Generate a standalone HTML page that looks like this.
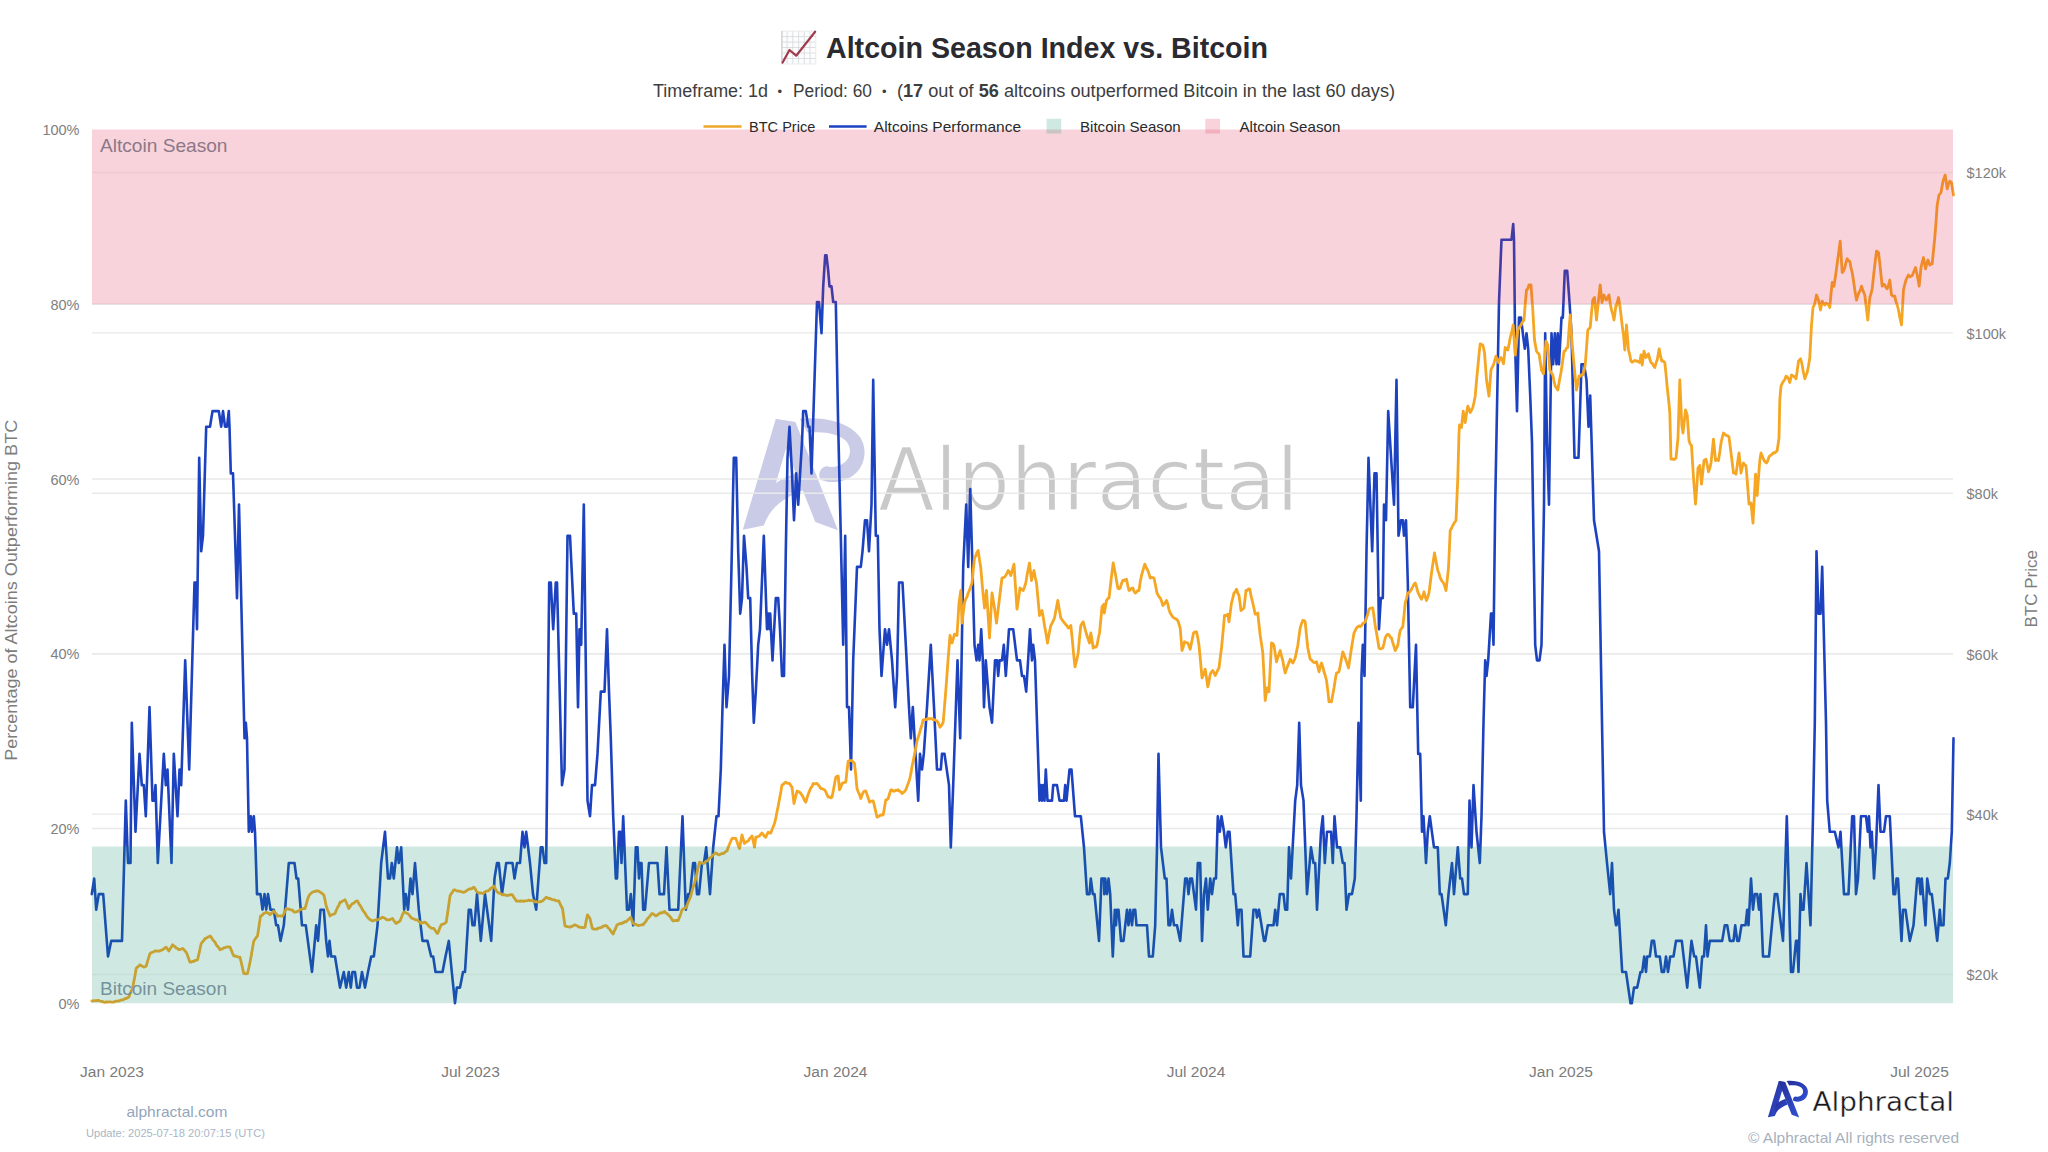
<!DOCTYPE html>
<html lang="en"><head><meta charset="utf-8"><title>Altcoin Season Index vs. Bitcoin</title>
<style>
html,body{margin:0;padding:0;background:#fff;}
body{width:2048px;height:1152px;overflow:hidden;font-family:"Liberation Sans",sans-serif;}
svg{display:block}
text{font-family:"Liberation Sans",sans-serif;}
.ax{font-size:14.5px;fill:#808080;}
.xl{font-size:15.5px;fill:#7b7b7b;}
.lg{font-size:15px;fill:#2a2a2a;}
.wm{font-family:"DejaVu Sans","Liberation Sans",sans-serif;}
</style></head><body>
<svg width="2048" height="1152" viewBox="0 0 2048 1152">
<defs>
<linearGradient id="lgA" x1="0" y1="0" x2="1" y2="1"><stop offset="0" stop-color="#262c98"/><stop offset="1" stop-color="#3153d4"/></linearGradient>
<g id="ap">
<path d="M190,1040 L450,168 L590,192 L355,1008 Z"/>
<path d="M450,168 L605,192 L940,1045 L762,980 L505,335 Z"/>
<path d="M355,1008 C405,870 505,790 665,730 L612,595 C515,630 430,675 372,735 Z"/>
<path d="M640,166 C900,140 1150,235 1150,425 C1150,620 950,700 815,650 C775,630 790,550 850,540 C930,562 1035,515 1035,420 C1035,305 880,262 700,275 Z"/>
</g>
</defs>
<rect x="0" y="0" width="2048" height="1152" fill="#ffffff"/>

<g opacity="1">
<g transform="translate(718.65,397.7) scale(0.1269)" fill="#cacbe7"><use href="#ap"/></g>
<text class="wm" x="878" y="509.5" font-size="88" font-weight="400" fill="#c9c9c9" stroke="#ffffff" stroke-width="1.7" textLength="421" lengthAdjust="spacingAndGlyphs">Alphractal</text>
</g>
<g stroke="#e9e9e9" stroke-width="1.4" fill="none">
<line x1="92" x2="1953" y1="828.5" y2="828.5"/>
<line x1="92" x2="1953" y1="653.7" y2="653.7"/>
<line x1="92" x2="1953" y1="479.0" y2="479.0"/>
<line x1="92" x2="1953" y1="304.2" y2="304.2"/>
<line x1="92" x2="1953" y1="814.1" y2="814.1"/>
<line x1="92" x2="1953" y1="653.7" y2="653.7"/>
<line x1="92" x2="1953" y1="493.3" y2="493.3"/>
<line x1="92" x2="1953" y1="332.9" y2="332.9"/>
<line x1="92" x2="1953" y1="974.5" y2="974.5" stroke="#f4f4f4"/>
<line x1="92" x2="1953" y1="172.5" y2="172.5" stroke="#f4f4f4"/>
</g>
<polyline fill="none" stroke="#1c42bf" stroke-width="2.6" stroke-linejoin="round" stroke-linecap="round" points="91.8,894.1 94.2,878.5 96.2,909.7 98.8,894.1 103.2,894.1 108.0,956.5 111.2,940.9 122.0,940.9 125.8,800.6 128.0,863.0 130.5,863.0 131.8,722.7 135.5,831.8 139.5,753.9 141.8,785.1 143.8,785.1 145.8,816.2 149.5,707.1 152.5,800.6 154.2,800.6 155.5,785.1 157.8,863.0 163.8,753.9 165.8,785.1 167.5,769.5 171.5,863.0 173.8,753.9 177.5,816.2 179.5,769.5 181.2,785.1 185.2,660.4 189.2,769.5 194.5,582.5 195.8,582.5 197.0,629.2 199.2,457.8 201.2,551.3 203.0,535.7 206.2,426.7 210.0,426.7 212.5,411.1 218.8,411.1 221.2,426.7 223.0,411.1 225.0,426.7 227.0,426.7 228.8,411.1 229.5,426.7 230.8,473.4 233.0,473.4 237.0,598.1 239.0,504.6 244.5,738.3 245.8,722.7 247.0,738.3 248.8,831.8 250.8,816.2 252.0,831.8 253.8,816.2 255.0,831.8 257.0,894.1 260.5,894.1 262.5,909.7 264.5,894.1 266.2,909.7 268.0,894.1 270.5,909.7 273.8,909.7 276.2,925.3 278.0,925.3 280.5,940.9 283.8,925.3 288.8,863.0 294.5,863.0 296.5,878.5 298.2,878.5 302.0,925.3 305.8,925.3 312.0,972.0 316.2,925.3 318.0,940.9 320.5,909.7 323.8,909.7 326.2,940.9 328.0,956.5 329.5,940.9 331.2,956.5 335.0,956.5 340.0,987.6 343.8,972.0 346.2,987.6 348.8,972.0 350.8,987.6 352.5,972.0 355.0,972.0 357.0,987.6 359.5,987.6 362.0,972.0 365.0,987.6 368.0,972.0 371.2,956.5 373.8,956.5 377.5,925.3 381.2,863.0 385.0,831.8 388.0,878.5 390.0,878.5 391.8,863.0 393.8,878.5 397.0,847.4 398.8,863.0 401.2,847.4 404.2,909.7 405.8,894.1 408.0,909.7 410.5,878.5 412.5,894.1 415.0,863.0 418.8,909.7 422.5,940.9 427.5,940.9 431.2,956.5 433.2,956.5 435.5,972.0 442.5,972.0 445.5,956.5 448.8,940.9 451.8,972.0 455.0,1003.2 456.8,987.6 460.0,987.6 463.0,972.0 465.0,972.0 468.8,909.7 470.8,909.7 472.5,925.3 474.5,925.3 477.0,894.1 480.8,940.9 485.0,894.1 491.2,940.9 494.5,878.5 497.0,863.0 498.8,863.0 502.0,894.1 506.2,863.0 512.5,863.0 514.5,878.5 517.0,863.0 520.0,863.0 522.5,831.8 524.5,847.4 526.2,831.8 530.0,863.0 533.0,894.1 536.2,909.7 540.8,847.4 542.5,847.4 544.5,863.0 546.2,863.0 549.2,582.5 550.8,582.5 553.2,629.2 555.8,582.5 557.0,582.5 562.0,785.1 564.5,769.5 567.5,535.7 570.0,535.7 573.8,613.6 576.2,613.6 578.0,707.1 579.5,629.2 581.2,644.8 583.8,504.6 587.5,800.6 590.0,816.2 592.0,785.1 595.0,785.1 597.5,753.9 600.8,691.6 604.5,691.6 607.0,629.2 609.0,691.6 610.8,738.3 613.2,816.2 615.8,878.5 617.0,878.5 619.0,831.8 620.2,831.8 621.5,863.0 623.2,816.2 627.0,909.7 629.0,909.7 630.8,894.1 633.2,925.3 635.8,847.4 637.5,847.4 639.0,878.5 640.0,863.0 641.5,863.0 643.2,909.7 645.0,909.7 649.0,863.0 657.5,863.0 659.5,894.1 664.0,894.1 666.5,847.4 669.5,909.7 678.2,909.7 682.5,816.2 685.8,909.7 688.2,894.1 690.0,894.1 693.2,863.0 695.0,863.0 697.0,894.1 699.0,894.1 702.0,863.0 704.0,863.0 706.2,847.4 710.0,894.1 713.2,847.4 716.5,816.2 718.5,816.2 720.8,769.5 722.5,707.1 724.5,644.8 726.5,707.1 729.0,676.0 731.5,566.9 733.8,457.8 736.2,457.8 738.2,551.3 740.2,613.6 742.0,598.1 744.0,535.7 746.5,566.9 748.2,598.1 750.2,598.1 752.2,676.0 753.8,722.7 755.8,691.6 758.2,644.8 760.0,629.2 763.8,535.7 767.0,629.2 768.2,613.6 769.5,629.2 770.2,613.6 772.5,660.4 775.8,598.1 778.2,598.1 780.0,629.2 782.0,676.0 784.0,676.0 785.8,551.3 787.5,457.8 789.5,426.7 792.0,473.4 794.0,520.2 796.2,473.4 798.2,504.6 802.0,442.2 803.2,411.1 805.8,411.1 808.2,426.7 809.5,426.7 811.5,473.4 814.5,379.9 817.0,302.0 819.0,302.0 821.5,333.2 823.2,286.4 825.2,255.3 826.5,255.3 828.2,270.8 829.5,286.4 831.5,286.4 833.2,302.0 835.8,302.0 838.2,426.7 840.8,535.7 843.2,644.8 845.2,535.7 847.0,707.1 849.0,707.1 851.0,769.5 853.2,660.4 857.0,566.9 860.8,566.9 862.5,551.3 865.0,520.2 867.0,520.2 869.0,551.3 871.5,504.6 873.2,379.9 874.5,457.8 875.8,535.7 877.8,535.7 879.5,629.2 881.5,676.0 885.0,629.2 887.0,644.8 889.0,629.2 892.0,660.4 895.2,707.1 897.0,676.0 899.0,582.5 902.5,582.5 905.8,644.8 909.0,707.1 910.8,738.3 912.8,707.1 918.2,800.6 920.0,753.9 922.0,769.5 923.8,753.9 927.0,707.1 930.8,644.8 934.0,707.1 937.0,769.5 940.8,769.5 942.0,753.9 944.5,753.9 949.0,785.1 950.8,847.4 953.2,785.1 957.5,660.4 960.2,738.3 963.2,566.9 966.2,504.6 968.2,566.9 970.2,489.0 972.0,551.3 974.5,644.8 976.5,660.4 978.2,644.8 979.5,660.4 981.2,629.2 982.8,660.4 984.0,707.1 985.8,660.4 989.5,707.1 992.0,722.7 995.0,660.4 997.0,660.4 998.2,676.0 999.5,660.4 1002.0,660.4 1003.8,644.8 1005.8,676.0 1009.0,629.2 1013.2,629.2 1017.0,660.4 1020.0,660.4 1022.0,676.0 1024.0,676.0 1026.2,691.6 1030.0,629.2 1032.0,660.4 1033.2,644.8 1035.0,660.4 1036.5,707.1 1039.5,800.6 1040.8,785.1 1042.0,800.6 1043.2,785.1 1044.5,800.6 1045.8,769.5 1047.5,800.6 1052.0,800.6 1053.2,785.1 1057.0,785.1 1059.5,800.6 1064.0,800.6 1065.2,785.1 1066.5,800.6 1069.5,769.5 1071.5,769.5 1075.0,816.2 1080.8,816.2 1084.0,847.4 1087.0,894.1 1089.5,894.1 1090.8,878.5 1092.8,894.1 1094.5,894.1 1099.0,940.9 1101.5,878.5 1104.0,878.5 1104.3,894.1 1105.2,878.5 1107.0,894.1 1108.5,878.5 1110.2,894.1 1112.8,956.5 1114.8,909.7 1116.0,925.3 1117.0,909.7 1118.5,909.7 1121.0,940.9 1123.5,940.9 1127.0,909.7 1128.5,925.3 1130.2,909.7 1132.0,925.3 1133.5,909.7 1135.2,909.7 1136.5,925.3 1147.0,925.3 1149.0,956.5 1152.8,956.5 1155.2,925.3 1157.0,847.4 1158.5,753.9 1161.0,847.4 1164.8,878.5 1166.5,878.5 1168.5,925.3 1170.2,925.3 1172.0,909.7 1174.0,925.3 1177.0,925.3 1180.2,940.9 1185.2,878.5 1187.0,878.5 1188.5,894.1 1190.2,878.5 1192.0,878.5 1196.0,909.7 1197.8,863.0 1200.2,863.0 1202.0,940.9 1204.0,894.1 1206.0,878.5 1207.8,909.7 1210.2,878.5 1212.0,894.1 1214.0,878.5 1216.0,878.5 1217.8,816.2 1219.8,831.8 1221.5,816.2 1224.0,831.8 1225.8,847.4 1227.8,831.8 1229.5,831.8 1233.5,894.1 1235.2,894.1 1237.8,925.3 1239.0,909.7 1241.5,909.7 1243.5,956.5 1250.2,956.5 1253.5,909.7 1256.0,909.7 1257.0,917.5 1259.0,909.7 1264.0,940.9 1265.2,940.9 1267.8,925.3 1273.5,925.3 1275.2,909.7 1277.0,925.3 1279.8,894.1 1283.5,894.1 1285.2,909.7 1287.2,909.7 1289.0,847.4 1291.0,878.5 1295.2,800.6 1297.2,785.1 1299.2,722.7 1301.0,785.1 1303.5,800.6 1307.0,894.1 1311.0,847.4 1313.5,863.0 1315.2,863.0 1317.0,909.7 1321.0,831.8 1322.8,816.2 1324.8,863.0 1327.0,831.8 1331.0,831.8 1332.8,863.0 1334.5,816.2 1337.0,847.4 1340.2,847.4 1342.8,863.0 1344.5,863.0 1346.5,909.7 1349.0,894.1 1352.0,894.1 1354.8,878.5 1356.5,816.2 1358.5,722.7 1360.8,800.6 1361.5,676.0 1362.8,644.8 1364.5,676.0 1366.5,551.3 1368.5,457.8 1372.2,551.3 1374.5,473.4 1376.5,473.4 1379.0,629.2 1380.8,598.1 1382.8,598.1 1384.0,504.6 1386.0,520.2 1388.2,411.1 1394.0,504.6 1396.5,379.9 1398.5,535.7 1401.0,520.2 1402.8,520.2 1404.0,535.7 1406.0,520.2 1407.8,582.5 1410.2,707.1 1412.8,707.1 1416.0,644.8 1418.2,753.9 1420.2,753.9 1422.0,831.8 1423.5,816.2 1426.0,863.0 1427.8,831.8 1429.8,816.2 1434.0,847.4 1437.8,847.4 1439.8,894.1 1441.5,894.1 1445.8,925.3 1448.5,894.1 1452.0,863.0 1454.0,894.1 1457.8,847.4 1460.2,878.5 1462.0,878.5 1464.0,894.1 1467.8,894.1 1469.5,800.6 1471.5,847.4 1473.5,785.1 1476.5,831.8 1479.8,863.0 1481.5,816.2 1483.5,722.7 1485.2,660.4 1486.5,676.0 1488.2,660.4 1491.0,613.6 1492.2,613.6 1493.5,644.8 1495.2,504.6 1499.0,302.0 1501.5,239.7 1511.5,239.7 1513.2,224.1 1514.0,239.7 1515.2,348.8 1517.0,411.1 1519.0,317.6 1521.0,317.6 1522.8,333.2 1524.8,348.8 1526.5,333.2 1528.2,348.8 1530.2,395.5 1532.0,442.2 1535.2,644.8 1537.0,660.4 1539.5,660.4 1541.5,644.8 1544.0,504.6 1545.2,333.2 1547.0,442.2 1549.0,504.6 1551.5,333.2 1553.2,364.3 1554.8,333.2 1556.5,364.3 1557.8,333.2 1559.0,364.3 1561.5,317.6 1562.8,317.6 1564.8,270.8 1567.2,270.8 1569.5,302.0 1571.5,333.2 1574.5,457.8 1578.5,457.8 1581.5,364.3 1584.0,364.3 1586.5,379.9 1588.5,426.7 1590.2,395.5 1594.0,520.2 1599.0,551.3 1602.0,722.7 1604.0,831.8 1607.0,863.0 1610.2,894.1 1612.0,863.0 1614.0,909.7 1616.0,925.3 1616.5,925.3 1618.5,909.7 1622.2,972.0 1626.0,972.0 1630.5,1003.2 1631.8,1003.2 1634.0,987.6 1637.2,987.6 1640.5,972.0 1642.2,972.0 1644.2,956.5 1646.0,972.0 1647.2,956.5 1649.8,956.5 1651.8,940.9 1654.0,940.9 1656.0,956.5 1659.8,956.5 1661.8,972.0 1664.0,972.0 1666.0,956.5 1668.0,972.0 1670.2,956.5 1673.5,956.5 1676.0,940.9 1681.8,940.9 1687.2,987.6 1691.5,940.9 1694.2,956.5 1696.0,956.5 1699.8,987.6 1702.2,956.5 1704.0,956.5 1706.0,925.3 1707.5,956.5 1709.8,940.9 1722.2,940.9 1724.8,925.3 1727.2,925.3 1729.8,940.9 1733.5,940.9 1735.2,925.3 1737.2,940.9 1739.0,940.9 1741.5,925.3 1745.5,925.3 1747.2,909.7 1748.5,925.3 1751.0,878.5 1753.0,909.7 1754.8,894.1 1757.2,894.1 1759.0,909.7 1760.5,894.1 1763.0,956.5 1769.0,956.5 1774.8,894.1 1777.2,894.1 1783.0,940.9 1786.8,816.2 1791.0,972.0 1793.0,972.0 1796.0,940.9 1797.2,940.9 1798.5,972.0 1800.5,894.1 1801.8,909.7 1803.5,909.7 1806.5,863.0 1810.5,925.3 1813.0,816.2 1814.8,722.7 1816.5,551.3 1818.5,613.6 1820.5,613.6 1822.2,566.9 1826.0,722.7 1827.2,800.6 1829.8,831.8 1834.8,831.8 1838.5,847.4 1840.5,831.8 1844.0,894.1 1848.5,894.1 1852.2,816.2 1854.0,816.2 1856.0,894.1 1858.0,878.5 1861.0,816.2 1866.0,816.2 1867.8,831.8 1869.0,816.2 1870.5,847.4 1871.8,831.8 1874.0,878.5 1876.0,847.4 1878.5,785.1 1880.5,831.8 1884.0,831.8 1886.0,816.2 1889.8,816.2 1893.5,894.1 1895.2,894.1 1896.5,878.5 1898.0,878.5 1901.5,940.9 1903.0,909.7 1905.5,909.7 1909.8,940.9 1913.5,925.3 1917.2,878.5 1919.2,878.5 1920.5,894.1 1921.8,878.5 1925.5,925.3 1927.2,878.5 1929.8,894.1 1931.8,894.1 1937.2,940.9 1939.8,909.7 1941.0,925.3 1943.5,925.3 1945.5,878.5 1947.8,878.5 1949.8,863.0 1951.8,831.8 1953.5,738.3"/>
<polyline fill="none" stroke="#f5a623" stroke-width="2.8" stroke-linejoin="round" stroke-linecap="round" points="91.8,1001.0 93.2,1000.8 94.5,1000.5 96.0,1000.8 97.3,1000.3 98.8,1000.5 100.0,1001.0 101.2,1001.3 102.5,1001.5 103.8,1002.2 105.0,1002.3 106.2,1001.9 107.5,1002.2 108.8,1001.9 110.0,1001.9 111.2,1002.2 112.5,1002.2 113.8,1002.2 115.0,1001.3 116.2,1001.1 117.5,1001.1 118.8,1001.0 120.0,1000.4 121.2,1000.0 122.5,999.8 123.8,999.6 125.0,998.4 126.2,998.5 127.5,997.6 128.8,997.2 130.0,994.0 131.2,991.1 132.5,988.5 133.8,981.7 135.0,975.4 136.2,968.5 137.5,967.0 138.8,966.1 140.0,964.8 141.2,965.7 142.5,966.3 143.8,967.2 145.0,966.7 146.2,966.0 147.5,961.4 148.8,957.3 150.0,953.5 151.2,952.6 152.5,952.4 153.8,951.6 155.0,951.0 156.2,950.8 157.5,951.1 158.8,951.0 160.0,951.0 161.2,950.1 162.5,949.8 163.8,948.9 165.0,947.8 166.2,947.2 167.5,949.2 168.8,951.0 170.0,948.9 171.2,947.2 172.5,944.8 173.8,946.0 175.0,946.6 176.2,948.2 177.5,948.4 178.8,949.8 180.0,949.3 181.2,949.2 182.5,948.5 183.8,949.4 185.0,951.0 186.2,952.2 187.5,955.2 188.8,959.1 190.0,962.2 191.2,962.1 192.5,961.5 193.8,961.3 195.0,960.4 196.2,960.3 197.5,959.8 198.8,954.4 200.0,949.0 201.2,943.5 202.5,941.8 203.8,940.5 205.0,938.5 206.2,938.3 207.5,937.2 208.8,936.8 210.0,936.0 211.2,937.1 212.5,939.3 213.8,940.8 215.0,942.2 216.2,944.6 217.5,946.3 218.8,947.7 220.0,949.8 221.2,949.1 222.5,948.9 223.8,947.8 225.0,947.7 226.2,947.2 227.5,946.9 228.8,946.9 230.0,947.2 231.2,949.8 232.5,953.3 233.8,956.0 235.0,955.9 236.2,956.3 237.5,956.7 238.8,957.3 240.0,957.2 241.2,962.3 242.5,968.0 243.8,973.5 245.0,973.5 246.2,973.8 247.5,973.5 248.8,968.0 250.0,962.2 251.2,956.0 252.5,948.3 253.8,941.0 255.0,939.3 256.2,937.5 257.5,936.0 259.0,926.4 260.5,916.0 261.9,915.5 263.4,913.8 264.8,912.9 266.2,912.2 267.5,912.8 268.8,913.6 270.0,914.8 271.2,913.5 272.5,912.3 273.8,911.0 275.0,912.4 276.2,913.8 277.5,916.0 278.8,915.9 280.0,915.9 281.2,916.1 282.5,916.0 283.8,914.0 285.0,911.2 286.2,908.5 287.5,908.8 288.8,909.2 290.0,909.6 291.2,909.8 292.5,910.1 293.8,911.8 295.0,912.2 296.2,911.9 297.5,911.4 298.8,910.7 300.0,909.8 301.2,909.3 302.5,909.0 303.8,908.4 305.0,908.5 306.2,904.5 307.5,899.7 308.8,896.0 310.0,894.3 311.2,893.2 312.5,892.2 313.8,891.6 315.0,891.5 316.2,890.8 317.5,891.0 318.8,891.2 320.0,892.1 321.2,892.8 322.5,893.9 323.8,894.8 325.0,899.9 326.2,906.0 327.5,909.7 328.8,912.8 330.0,916.0 331.2,915.0 332.5,914.5 333.8,914.0 335.0,913.5 336.2,910.5 337.5,907.5 338.8,905.4 340.0,902.2 341.2,902.1 342.5,901.0 343.8,900.4 345.0,899.8 346.2,902.2 347.5,905.2 348.8,908.5 350.0,906.7 351.2,904.9 352.5,903.5 353.8,903.2 355.0,901.9 356.2,901.1 357.5,901.0 358.8,903.7 360.0,905.4 361.2,907.2 362.5,909.8 363.8,911.7 365.0,913.0 366.2,915.4 367.5,917.2 368.8,918.7 370.0,919.5 371.2,920.3 372.5,921.0 373.8,920.4 375.0,920.2 376.2,919.7 377.5,919.8 378.8,919.4 380.0,918.5 381.2,918.2 382.5,917.2 383.8,917.7 385.0,918.2 386.2,919.4 387.5,919.8 388.8,919.9 390.0,919.5 391.2,919.1 392.5,918.5 393.8,920.5 395.0,922.1 396.2,923.5 397.5,922.4 398.8,921.9 400.0,921.0 401.2,917.9 402.5,914.7 403.8,912.2 405.0,912.2 406.2,912.9 407.5,913.5 408.8,914.5 410.0,916.2 411.2,917.7 412.5,918.5 413.8,918.8 415.0,919.6 416.2,919.9 417.5,919.8 418.8,921.5 420.0,922.1 421.2,923.5 422.5,922.8 423.8,922.4 425.0,922.2 426.2,923.2 427.5,924.5 428.8,926.1 430.0,927.2 431.2,928.1 432.5,928.4 433.8,928.5 435.0,930.1 436.2,932.0 437.5,933.5 438.8,930.9 440.0,927.3 441.2,924.8 442.5,924.3 443.8,923.9 445.0,923.2 446.2,922.2 447.5,913.8 448.8,904.7 450.0,896.0 451.2,893.6 452.5,892.1 453.8,889.8 455.0,889.9 456.2,890.7 457.5,891.2 458.8,891.0 460.0,891.3 461.2,891.7 462.5,892.2 463.8,892.3 465.0,891.7 466.2,891.0 467.5,890.0 468.8,889.3 470.0,888.7 471.2,888.9 472.5,888.2 473.8,887.2 475.0,888.5 476.2,890.9 477.5,892.2 478.8,893.1 480.0,893.0 481.2,893.0 482.5,893.5 483.8,892.9 485.0,891.9 486.2,891.1 487.5,891.0 488.8,890.5 490.0,889.2 491.2,888.0 492.5,887.5 493.8,886.0 495.0,888.0 496.2,890.6 497.5,892.2 498.8,893.2 500.0,893.2 501.2,893.9 502.5,894.8 503.8,894.7 505.0,894.8 506.2,895.4 507.5,895.5 508.8,895.1 510.0,895.0 511.2,894.5 512.5,894.8 513.8,897.3 515.0,898.8 516.2,901.0 517.5,901.0 518.8,901.1 520.0,901.4 521.2,900.9 522.5,901.0 523.8,901.4 525.0,900.8 526.2,900.8 527.5,900.7 528.8,900.1 530.0,900.5 531.2,900.7 532.5,900.7 533.8,900.9 535.0,902.0 536.2,901.6 537.5,902.2 538.8,901.9 540.0,901.9 541.2,901.4 542.5,901.0 543.8,899.6 545.0,898.5 546.2,897.2 547.5,897.8 548.8,898.6 550.0,898.3 551.2,899.3 552.5,899.8 553.8,899.7 555.0,900.0 556.2,900.8 557.5,900.8 558.8,901.0 560.0,903.6 561.2,906.3 562.5,908.5 563.8,917.7 565.0,926.0 566.2,926.3 567.5,926.7 568.8,926.9 570.0,927.2 571.2,926.6 572.5,926.2 573.8,925.3 575.0,924.8 576.2,925.4 577.5,926.0 578.8,927.1 580.0,927.2 581.2,927.4 582.5,927.6 583.8,927.7 585.0,927.2 586.2,920.8 587.5,914.8 588.8,916.7 590.0,918.5 592.0,927.2 592.3,928.5 593.9,929.1 595.4,929.2 597.0,929.0 598.2,928.2 599.5,927.8 600.8,927.6 602.0,927.2 603.2,926.2 604.5,925.8 605.8,925.5 607.0,926.2 608.2,928.0 609.5,929.0 610.8,930.9 612.0,932.7 613.2,934.0 614.5,930.6 615.8,928.0 617.0,924.8 618.2,924.5 619.5,923.5 620.8,923.8 622.0,923.0 623.2,923.0 624.5,921.7 625.8,922.0 627.0,921.0 628.2,919.6 629.5,918.5 630.8,917.2 632.0,920.9 633.2,923.5 634.5,924.3 635.8,924.2 637.0,924.9 638.2,925.5 639.5,925.3 640.8,925.0 642.0,924.6 643.2,924.8 644.5,922.9 645.8,921.6 647.0,919.2 648.2,918.0 649.5,916.6 650.8,914.9 652.0,913.5 653.2,913.8 654.5,915.0 655.8,916.0 657.0,915.3 658.2,914.3 659.5,913.5 660.8,912.6 662.0,913.0 663.2,912.3 664.5,911.5 665.8,913.1 667.0,913.3 668.2,914.8 669.5,916.1 670.8,917.4 672.0,919.7 673.2,921.0 674.5,920.6 675.8,920.4 677.0,920.5 678.2,920.5 679.5,917.3 680.8,913.7 682.0,909.8 683.2,908.9 684.5,908.2 685.8,908.0 687.0,905.4 688.2,902.1 689.5,899.2 690.8,896.0 692.0,891.2 693.2,886.8 694.5,883.1 695.8,878.5 697.0,873.0 698.2,867.2 699.5,862.2 700.8,863.2 702.0,863.2 703.2,863.5 704.5,863.0 705.8,861.4 707.0,861.0 708.2,860.2 709.5,858.0 710.8,857.7 712.0,856.0 713.2,854.9 714.5,853.8 715.8,853.0 717.0,853.6 718.2,854.7 719.5,854.8 720.8,854.1 722.0,853.5 723.2,853.5 724.5,852.7 725.8,851.5 727.0,851.0 728.2,847.4 729.5,844.3 730.8,841.1 732.0,838.5 733.2,838.1 734.5,838.3 735.8,838.5 737.0,841.6 738.2,845.5 739.5,848.5 740.8,841.4 742.0,834.8 743.2,839.1 744.5,843.5 745.8,842.3 747.0,841.6 748.2,841.0 749.5,838.7 750.8,837.4 752.0,836.0 753.2,841.0 754.5,847.2 755.8,837.2 757.0,837.1 758.2,836.5 759.5,836.0 760.8,834.1 762.0,833.0 763.2,834.4 764.5,836.4 765.8,837.2 767.0,834.3 768.2,832.2 769.5,833.0 770.8,833.0 772.0,829.7 773.2,826.7 774.5,823.5 775.8,818.1 777.0,811.7 778.2,806.0 779.5,798.9 780.8,792.1 782.0,784.8 783.2,784.6 784.5,782.9 785.8,782.2 787.0,783.1 788.2,783.4 789.5,783.5 790.8,785.6 792.0,787.2 794.0,803.5 795.5,797.1 797.0,791.0 798.2,791.6 799.5,792.1 800.8,793.5 802.0,795.2 803.2,797.3 804.5,800.4 805.8,802.2 807.0,798.2 808.2,794.3 809.5,791.0 810.8,787.9 812.0,786.5 813.2,783.5 814.5,784.0 815.8,783.7 817.0,783.5 818.2,784.9 819.5,786.5 820.8,788.5 822.0,788.6 823.2,789.3 824.5,789.8 825.8,791.8 827.0,794.7 828.2,797.2 829.5,796.9 830.8,797.9 832.0,797.2 833.2,791.2 834.5,784.0 835.8,777.2 837.0,776.3 838.2,776.0 839.5,789.8 840.8,787.3 842.0,783.5 843.2,782.8 844.5,782.5 845.8,782.2 847.0,770.9 848.2,761.0 849.5,760.7 850.8,760.6 852.0,760.5 853.2,762.0 854.5,763.5 855.8,775.6 857.0,788.5 858.2,791.8 859.5,794.5 860.8,798.5 862.0,795.1 863.2,792.2 864.5,791.1 865.8,791.0 867.0,794.6 868.2,797.9 869.5,802.2 870.8,801.2 872.0,801.2 873.2,801.0 874.5,806.1 875.8,811.9 877.0,817.2 878.2,816.5 879.5,815.9 880.8,814.8 882.0,815.0 883.2,814.8 884.5,807.5 885.8,799.8 887.0,799.6 888.2,798.5 889.5,794.0 890.8,789.8 892.0,789.9 893.2,791.2 894.5,791.0 895.8,790.1 897.0,790.5 898.2,789.8 899.5,791.2 900.8,791.6 902.0,793.5 903.2,792.7 904.5,791.5 905.8,789.8 907.0,786.6 908.2,783.4 909.5,779.8 910.8,773.9 912.0,766.7 913.2,761.0 914.5,754.4 915.8,747.7 917.0,741.0 918.2,737.3 919.5,733.1 920.8,728.5 922.0,724.6 923.2,719.8 924.5,719.6 925.8,719.7 927.0,719.1 928.2,718.5 929.5,719.1 930.8,718.7 932.0,718.7 933.2,719.8 934.5,719.6 935.8,720.4 937.0,721.0 938.5,723.5 940.0,727.2 941.6,725.3 943.2,722.2 944.5,706.5 945.8,690.5 947.0,674.5 948.2,658.0 950.0,635.5 952.0,643.0 953.2,638.8 954.5,634.2 955.8,635.2 957.0,635.5 959.0,603.0 960.8,590.5 962.0,623.0 963.2,613.0 964.5,603.0 965.8,598.8 967.0,596.9 968.2,593.0 969.5,590.1 970.8,586.3 972.0,583.0 973.2,570.6 974.5,558.0 975.8,555.8 977.0,552.2 978.2,550.5 979.5,559.7 980.8,568.0 982.5,588.0 984.5,608.0 986.5,590.5 988.0,613.8 989.5,638.0 990.8,614.7 992.0,593.0 993.2,600.1 994.5,608.0 996.5,623.0 998.0,610.9 999.5,598.0 1000.8,587.5 1002.0,578.0 1003.2,577.6 1004.5,577.2 1005.8,575.5 1007.0,573.0 1008.2,570.5 1009.5,572.8 1010.8,575.5 1012.4,569.8 1014.0,564.2 1015.5,587.1 1017.0,609.2 1018.5,599.1 1020.0,588.0 1021.6,589.5 1023.2,590.5 1024.5,587.0 1025.8,583.0 1027.0,575.5 1028.2,569.0 1029.5,563.0 1031.5,580.5 1032.8,575.0 1034.0,570.5 1035.2,577.2 1036.5,583.0 1038.0,598.9 1039.5,615.5 1040.8,613.1 1042.0,610.5 1043.2,617.1 1044.5,625.5 1046.0,633.5 1047.5,643.0 1049.1,633.8 1050.8,625.5 1052.0,623.3 1053.2,620.8 1054.5,618.0 1056.1,609.6 1057.8,600.5 1059.2,608.9 1060.8,618.0 1062.0,619.7 1063.2,621.3 1064.5,623.0 1065.8,624.6 1067.0,625.7 1068.2,628.0 1069.5,627.4 1070.8,625.5 1072.2,638.7 1073.6,653.8 1075.0,666.8 1076.6,660.6 1078.2,653.0 1079.5,638.4 1080.8,625.5 1082.0,623.6 1083.2,621.8 1084.5,626.9 1085.8,631.7 1087.0,635.5 1088.2,639.2 1089.5,643.0 1090.8,633.0 1092.0,640.1 1093.2,648.0 1094.5,646.7 1095.8,647.1 1097.0,645.5 1098.2,638.8 1099.5,633.0 1100.8,620.0 1102.0,606.8 1104.0,604.2 1104.3,613.0 1106.5,600.5 1107.8,598.6 1109.0,598.0 1111.0,580.5 1113.2,563.0 1115.2,573.0 1116.5,580.5 1117.8,588.0 1119.0,588.8 1120.2,588.0 1121.5,583.6 1122.8,580.5 1124.0,580.7 1125.2,579.7 1126.5,579.2 1127.8,585.6 1129.0,590.5 1130.2,590.0 1131.5,588.3 1132.8,588.0 1134.0,591.2 1135.2,593.0 1136.5,592.1 1137.8,590.5 1139.0,590.5 1140.2,582.1 1141.5,575.5 1143.1,569.9 1144.8,564.2 1146.2,567.3 1147.8,570.5 1149.0,573.9 1150.2,578.0 1151.5,577.3 1152.8,577.7 1154.0,578.0 1155.5,585.2 1157.0,593.0 1158.6,596.1 1160.2,598.0 1161.5,600.8 1162.8,605.5 1164.0,604.3 1165.2,602.8 1166.5,600.5 1167.8,604.0 1169.0,609.6 1170.2,613.0 1171.5,615.0 1172.8,617.0 1174.0,618.0 1175.2,618.5 1176.5,619.4 1177.8,620.5 1179.0,624.1 1180.2,628.0 1182.0,650.5 1183.2,647.0 1184.5,641.8 1186.1,642.5 1187.8,643.0 1189.0,645.9 1190.2,649.2 1191.9,641.0 1193.5,633.0 1195.0,632.0 1196.5,631.8 1197.8,637.8 1199.0,645.5 1200.5,661.1 1202.0,678.0 1203.6,674.2 1205.2,669.2 1206.5,677.7 1207.8,686.8 1209.0,681.2 1210.2,674.2 1211.5,672.0 1212.8,670.5 1214.0,672.6 1215.2,675.5 1216.5,673.0 1217.8,670.0 1219.0,668.0 1220.2,657.8 1221.5,648.0 1223.0,632.5 1224.5,615.5 1226.1,615.6 1227.8,614.2 1229.0,621.8 1230.2,612.9 1231.5,603.0 1232.8,598.2 1234.0,593.0 1235.2,591.9 1236.5,589.2 1237.8,593.2 1239.0,595.5 1241.0,610.5 1242.5,609.3 1244.0,608.0 1246.0,590.5 1247.2,590.5 1248.5,588.8 1249.8,589.2 1251.2,596.5 1252.8,603.0 1254.0,608.5 1255.2,614.2 1256.5,614.1 1257.8,613.0 1259.0,624.5 1260.2,635.5 1261.5,643.9 1262.8,653.0 1264.0,676.0 1265.2,700.5 1267.0,688.0 1269.0,691.8 1270.2,668.1 1271.5,643.0 1272.8,643.6 1274.0,645.5 1275.2,653.6 1276.5,661.8 1277.8,657.7 1279.0,653.9 1280.2,650.5 1281.5,655.9 1282.8,660.5 1284.0,667.5 1285.2,673.0 1286.5,668.9 1287.8,665.5 1289.0,662.6 1290.2,659.2 1291.5,660.8 1292.8,663.0 1294.0,660.6 1295.2,658.0 1296.5,651.6 1297.8,645.5 1299.0,636.2 1300.2,628.0 1301.5,623.7 1302.8,620.5 1304.0,620.6 1305.2,621.8 1306.5,635.6 1307.8,648.0 1309.0,653.6 1310.2,659.2 1311.5,660.0 1312.8,661.8 1314.0,662.4 1315.2,662.6 1316.5,661.8 1317.8,666.7 1319.0,671.8 1320.2,666.8 1321.5,663.0 1322.8,666.9 1324.0,671.8 1325.2,675.5 1326.5,680.5 1327.8,690.9 1329.0,701.8 1330.2,701.1 1331.5,701.8 1332.8,694.5 1334.0,688.0 1335.2,680.1 1336.5,673.0 1337.8,672.5 1339.0,671.8 1340.2,665.7 1341.5,658.8 1342.8,651.8 1344.0,654.7 1345.2,658.0 1346.9,662.9 1348.5,668.0 1350.0,658.0 1351.5,648.0 1352.8,640.3 1354.0,633.0 1355.2,630.6 1356.5,628.1 1357.8,626.8 1359.0,625.9 1360.2,626.7 1361.5,625.5 1362.8,623.6 1364.0,623.0 1365.2,621.8 1366.5,617.8 1367.8,614.1 1369.0,609.2 1370.2,608.3 1371.5,608.0 1372.8,608.0 1374.0,616.3 1375.2,625.5 1376.5,632.8 1377.8,640.4 1379.0,648.0 1380.2,648.8 1381.5,648.6 1382.8,648.0 1384.0,643.6 1385.2,638.0 1386.5,635.3 1387.8,634.2 1389.0,634.7 1390.2,637.1 1391.5,638.0 1392.8,642.8 1394.0,646.3 1395.2,650.5 1396.5,648.1 1397.8,645.5 1399.0,637.1 1400.2,630.5 1401.5,628.4 1402.8,626.8 1404.0,615.6 1405.2,603.0 1406.5,598.6 1407.8,593.0 1409.0,592.4 1410.2,591.4 1411.5,589.2 1412.8,586.7 1414.0,584.4 1415.2,583.0 1416.5,586.7 1417.8,591.8 1419.0,594.3 1420.2,597.1 1421.5,599.2 1422.8,596.3 1424.0,591.8 1425.2,596.5 1426.5,600.5 1427.8,597.0 1429.0,593.0 1430.2,583.5 1431.5,573.0 1433.0,562.9 1434.5,553.0 1436.1,561.8 1437.8,570.5 1439.0,573.4 1440.2,578.0 1441.9,581.0 1443.5,583.0 1444.8,586.3 1446.0,590.5 1447.2,580.0 1448.5,568.0 1450.2,530.5 1451.5,528.3 1452.8,525.5 1454.4,522.6 1456.0,520.5 1457.8,478.0 1459.0,433.0 1459.5,425.0 1461.5,427.5 1463.2,411.2 1465.2,422.5 1466.5,413.5 1467.8,406.2 1469.0,408.8 1470.2,412.5 1471.5,410.3 1472.8,407.5 1474.0,402.3 1475.2,396.2 1476.5,381.0 1477.8,367.5 1479.0,354.6 1480.2,343.8 1481.5,344.4 1482.8,345.0 1484.5,352.5 1486.5,380.0 1487.8,388.3 1489.0,396.2 1491.0,370.0 1492.2,367.2 1493.5,365.0 1494.8,360.0 1496.0,356.2 1497.2,359.6 1498.5,362.5 1499.8,358.8 1501.0,357.5 1502.2,360.1 1503.5,363.8 1505.2,347.5 1506.5,348.7 1507.8,350.0 1509.0,344.9 1510.2,337.5 1511.8,331.6 1513.2,325.0 1515.2,355.0 1516.5,343.4 1517.8,330.0 1519.4,327.4 1521.0,325.0 1522.5,321.8 1524.0,320.0 1525.2,304.4 1526.5,290.0 1527.8,288.7 1529.0,285.0 1531.0,285.0 1532.8,310.0 1534.5,340.0 1536.5,351.2 1537.8,353.0 1539.0,353.8 1540.2,361.4 1541.5,370.0 1543.5,373.8 1544.8,356.3 1546.0,341.2 1547.8,345.0 1549.8,370.0 1551.2,372.5 1552.8,375.0 1554.0,381.0 1555.2,386.2 1556.5,387.9 1557.8,390.0 1559.4,380.7 1561.0,372.5 1562.5,362.3 1564.0,351.2 1565.2,351.0 1566.5,348.1 1567.8,347.5 1569.0,330.1 1570.2,315.0 1572.0,342.5 1573.2,355.9 1574.5,370.0 1576.5,390.0 1577.8,382.9 1579.0,376.2 1580.2,376.3 1581.5,374.7 1582.8,375.0 1584.0,370.7 1585.2,365.0 1586.5,348.1 1587.8,330.0 1589.0,328.8 1590.2,327.5 1591.5,313.0 1592.8,300.0 1594.5,297.5 1596.5,320.0 1598.5,300.0 1600.2,285.0 1602.0,302.5 1604.0,295.0 1605.2,298.7 1606.5,300.0 1607.8,297.0 1609.0,295.0 1610.2,303.3 1611.5,310.0 1612.8,314.3 1614.0,320.0 1616.0,305.0 1616.3,306.2 1618.5,297.5 1619.8,305.5 1621.0,315.0 1622.2,325.7 1623.5,335.0 1624.8,350.0 1626.5,325.0 1628.5,350.0 1629.8,355.1 1631.0,361.2 1632.2,362.3 1633.5,361.2 1634.8,360.5 1636.0,361.2 1637.2,361.0 1638.5,361.9 1639.8,362.5 1641.0,355.0 1642.2,365.0 1644.0,351.2 1646.0,357.5 1647.2,356.0 1648.5,353.8 1649.8,359.2 1651.0,362.5 1652.2,363.3 1653.5,365.6 1654.8,367.5 1656.0,363.1 1657.2,360.0 1659.2,348.8 1660.5,356.2 1661.8,361.2 1663.2,361.0 1664.8,362.5 1666.0,373.9 1667.2,387.5 1668.5,399.0 1669.8,412.5 1671.0,459.2 1672.2,458.7 1673.5,459.5 1674.8,459.1 1676.0,458.0 1678.0,438.0 1679.8,380.0 1681.8,425.0 1683.0,433.0 1684.2,422.0 1685.5,410.0 1687.2,415.0 1689.0,440.5 1690.2,444.1 1691.5,445.5 1693.5,478.0 1695.5,504.2 1696.8,487.0 1698.0,468.0 1699.8,465.5 1701.5,484.2 1702.8,472.0 1704.0,460.5 1706.0,459.2 1707.2,464.8 1708.5,471.8 1709.8,468.3 1711.0,463.0 1712.2,451.7 1713.5,439.2 1715.5,460.5 1717.0,459.5 1718.5,460.5 1719.8,452.1 1721.0,443.0 1722.2,437.7 1723.5,433.0 1724.8,434.0 1726.0,435.5 1727.5,435.7 1729.0,436.8 1731.0,453.0 1732.2,462.3 1733.5,473.0 1734.8,472.6 1736.0,474.2 1737.5,463.1 1739.0,453.0 1741.0,473.0 1742.2,467.7 1743.5,463.0 1744.8,465.2 1746.0,465.5 1747.5,484.1 1749.0,504.2 1751.0,503.0 1753.0,523.0 1754.2,499.6 1755.5,474.2 1757.2,495.5 1758.5,477.4 1759.8,460.5 1761.0,453.0 1762.2,455.8 1763.5,459.2 1765.0,461.8 1766.5,463.0 1767.8,460.6 1769.0,456.8 1770.6,455.4 1772.2,454.2 1773.5,452.6 1774.8,453.0 1776.0,451.7 1777.2,450.5 1779.0,438.0 1779.8,400.0 1781.0,386.2 1782.2,383.4 1783.5,381.2 1784.8,379.7 1786.0,376.2 1787.2,376.8 1788.5,378.8 1789.8,382.5 1791.5,375.0 1793.5,376.2 1794.8,377.2 1796.0,378.8 1797.2,371.0 1798.5,361.2 1800.5,358.8 1801.8,363.2 1803.0,370.0 1804.8,378.8 1806.0,375.4 1807.2,372.5 1808.5,365.8 1809.8,357.5 1811.5,325.0 1813.0,307.5 1814.8,303.8 1816.5,295.0 1818.5,300.0 1820.5,310.0 1822.2,301.2 1823.5,303.8 1824.8,305.0 1826.0,303.2 1827.2,303.8 1828.5,304.4 1829.8,307.5 1831.0,293.9 1832.2,282.5 1834.0,286.2 1836.0,272.5 1838.0,257.5 1840.2,241.2 1842.2,272.5 1843.5,271.1 1844.8,267.5 1846.0,262.5 1847.2,258.8 1848.5,260.7 1849.8,261.2 1851.0,267.9 1852.2,272.5 1853.5,280.8 1854.8,290.0 1856.5,300.0 1857.8,295.7 1859.0,292.5 1860.2,290.6 1861.5,286.2 1863.1,290.9 1864.8,295.0 1866.2,306.9 1867.8,320.0 1869.8,297.5 1871.0,293.7 1872.2,288.8 1873.5,276.4 1874.8,265.0 1876.5,251.2 1878.5,252.5 1879.8,263.2 1881.0,275.0 1882.2,286.2 1883.5,284.3 1884.8,285.0 1886.0,287.5 1887.2,288.8 1888.5,285.5 1889.8,280.0 1891.5,295.0 1893.1,296.0 1894.8,296.2 1896.0,301.8 1897.2,305.0 1898.5,310.0 1899.8,317.5 1901.5,325.0 1903.5,290.0 1904.8,284.3 1906.0,280.0 1907.2,277.4 1908.5,275.0 1909.8,276.8 1911.0,276.2 1912.2,275.6 1913.5,272.5 1915.5,267.5 1917.2,275.0 1919.2,286.2 1921.0,267.5 1922.2,262.2 1923.5,257.5 1925.5,268.8 1926.8,263.7 1928.0,260.0 1929.8,265.0 1931.0,264.2 1932.2,263.8 1933.5,250.6 1934.8,237.5 1936.0,222.4 1937.2,205.0 1939.0,195.0 1941.0,192.5 1943.0,181.2 1945.2,175.0 1947.2,188.8 1948.5,184.1 1949.8,181.2 1951.5,182.5 1953.5,195.0"/>
<rect x="92" y="129.5" width="1861" height="174.7" fill="#dc234b" fill-opacity="0.2"/>
<rect x="92" y="846.5" width="1861" height="156.7" fill="#0f916e" fill-opacity="0.2"/>
<text x="100" y="152" font-size="18.5" fill="#8c7887" textLength="127.5" lengthAdjust="spacingAndGlyphs">Altcoin Season</text>
<text x="100" y="994.5" font-size="18.5" fill="#76929a" textLength="127" lengthAdjust="spacingAndGlyphs">Bitcoin Season</text>
<g transform="translate(781.4,31.1)">
<rect x="0" y="0" width="34.4" height="32.9" fill="#fdfdfd" stroke="#e4e6e8" stroke-width="0.8"/>
<g stroke="#d3d8db" stroke-width="0.8">
<line x1="5.7" y1="0.4" x2="5.7" y2="32.5"/><line x1="11.4" y1="0.4" x2="11.4" y2="32.5"/><line x1="17.2" y1="0.4" x2="17.2" y2="32.5"/><line x1="22.9" y1="0.4" x2="22.9" y2="32.5"/><line x1="28.6" y1="0.4" x2="28.6" y2="32.5"/>
<line x1="0.4" y1="5.5" x2="34" y2="5.5"/><line x1="0.4" y1="11" x2="34" y2="11"/><line x1="0.4" y1="16.4" x2="34" y2="16.4"/><line x1="0.4" y1="21.9" x2="34" y2="21.9"/><line x1="0.4" y1="27.4" x2="34" y2="27.4"/>
</g>
<line x1="0.6" y1="0" x2="0.6" y2="32.9" stroke="#cfd2d5" stroke-width="1.4"/>
<polyline points="1.2,31.4 8.1,18.9 14.8,24.6 33.7,0.6" fill="none" stroke="#a23a4d" stroke-width="2.2" stroke-linejoin="round" stroke-linecap="round"/>
</g>
<text x="826" y="57.5" font-size="29" font-weight="700" fill="#2a2a30" textLength="442" lengthAdjust="spacingAndGlyphs">Altcoin Season Index vs. Bitcoin</text>
<text x="653" y="97.3" font-size="18.3" fill="#3d3d3d" textLength="115" lengthAdjust="spacingAndGlyphs">Timeframe: 1d</text>
<text x="779.7" y="95.6" font-size="13" fill="#3d3d3d" text-anchor="middle">•</text>
<text x="793" y="97.3" font-size="18.3" fill="#3d3d3d" textLength="79" lengthAdjust="spacingAndGlyphs">Period: 60</text>
<text x="884.3" y="95.6" font-size="13" fill="#3d3d3d" text-anchor="middle">•</text>
<text x="897" y="97.3" font-size="18.3" fill="#3d3d3d" textLength="498" lengthAdjust="spacingAndGlyphs">(<tspan font-weight="700">17</tspan> out of <tspan font-weight="700">56</tspan> altcoins outperformed Bitcoin in the last 60 days)</text>
<line x1="703.5" x2="741.5" y1="126.5" y2="126.5" stroke="#eba628" stroke-width="2.4"/>
<text class="lg" x="749" y="132" textLength="66.3" lengthAdjust="spacingAndGlyphs">BTC Price</text>
<line x1="829" x2="866.6" y1="126.5" y2="126.5" stroke="#1c42bf" stroke-width="2.4"/>
<text class="lg" x="873.8" y="132" textLength="147.3" lengthAdjust="spacingAndGlyphs">Altcoins Performance</text>
<rect x="1046.5" y="118.8" width="14.7" height="14.7" fill="#0f916e" fill-opacity="0.2"/>
<text class="lg" x="1080" y="132" textLength="100.7" lengthAdjust="spacingAndGlyphs">Bitcoin Season</text>
<rect x="1205.3" y="118.8" width="14.7" height="14.7" fill="#dc234b" fill-opacity="0.2"/>
<text class="lg" x="1239.5" y="132" textLength="100.8" lengthAdjust="spacingAndGlyphs">Altcoin Season</text>
<text class="ax" x="79.5" y="1008.9" text-anchor="end">0%</text>
<text class="ax" x="79.5" y="834.2" text-anchor="end">20%</text>
<text class="ax" x="79.5" y="659.4" text-anchor="end">40%</text>
<text class="ax" x="79.5" y="484.7" text-anchor="end">60%</text>
<text class="ax" x="79.5" y="309.9" text-anchor="end">80%</text>
<text class="ax" x="79.5" y="135.2" text-anchor="end">100%</text>
<text class="ax" x="1966.5" y="980.3" font-size="15">$20k</text>
<text class="ax" x="1966.5" y="819.9" font-size="15">$40k</text>
<text class="ax" x="1966.5" y="659.5" font-size="15">$60k</text>
<text class="ax" x="1966.5" y="499.1" font-size="15">$80k</text>
<text class="ax" x="1966.5" y="338.7" font-size="15">$100k</text>
<text class="ax" x="1966.5" y="178.3" font-size="15">$120k</text>
<text transform="translate(17.3,590.3) rotate(-90)" text-anchor="middle" font-size="16.5" fill="#7d7d7d" textLength="341" lengthAdjust="spacingAndGlyphs">Percentage of Altcoins Outperforming BTC</text>
<text transform="translate(2036.8,588.8) rotate(-90)" text-anchor="middle" font-size="16.5" fill="#7d7d7d" textLength="77.5" lengthAdjust="spacingAndGlyphs">BTC Price</text>
<text class="xl" x="112" y="1076.6" text-anchor="middle">Jan 2023</text>
<text class="xl" x="470.5" y="1076.6" text-anchor="middle">Jul 2023</text>
<text class="xl" x="835.5" y="1076.6" text-anchor="middle">Jan 2024</text>
<text class="xl" x="1196" y="1076.6" text-anchor="middle">Jul 2024</text>
<text class="xl" x="1561" y="1076.6" text-anchor="middle">Jan 2025</text>
<text class="xl" x="1919.5" y="1076.6" text-anchor="middle">Jul 2025</text>
<text x="176.9" y="1117" text-anchor="middle" font-size="15" fill="#93a5bb" textLength="101" lengthAdjust="spacingAndGlyphs">alphractal.com</text>
<text x="175.4" y="1137" text-anchor="middle" font-size="11" fill="#aab6c6" textLength="179" lengthAdjust="spacingAndGlyphs">Update: 2025-07-18 20:07:15 (UTC)</text>
<g transform="translate(1760,1074) scale(0.041667)" fill="url(#lgA)"><use href="#ap"/></g>
<text class="wm" x="1812.5" y="1111" font-size="26.5" font-weight="400" fill="#17171c" stroke="#ffffff" stroke-width="0.35" textLength="141.5" lengthAdjust="spacingAndGlyphs">Alphractal</text>
<text x="1748" y="1142.5" font-size="14.3" fill="#a6b1be" textLength="211" lengthAdjust="spacingAndGlyphs">© Alphractal All rights reserved</text>
</svg></body></html>
